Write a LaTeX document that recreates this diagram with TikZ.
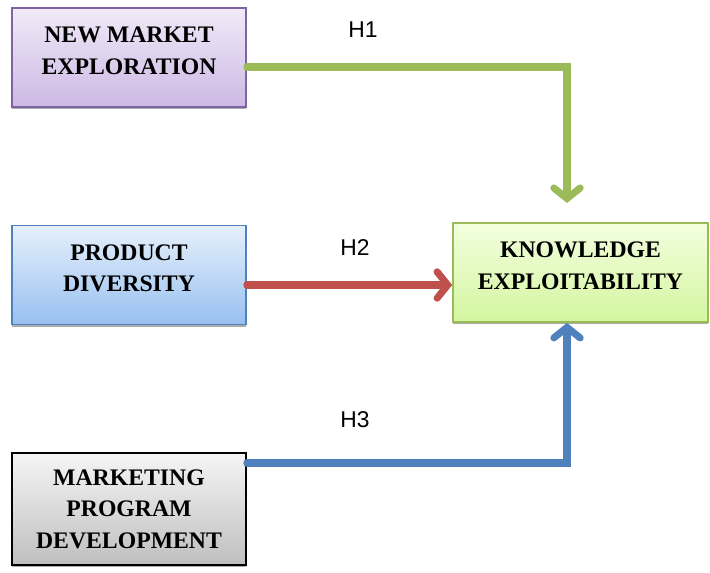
\documentclass[tikz,border=0pt]{standalone}
\usepackage{fontspec}
\setmainfont{Liberation Serif}
\newfontfamily\labelfont{Liberation Sans}
\usetikzlibrary{arrows.meta,shadows}

\definecolor{purpleedge}{HTML}{8064A2}
\definecolor{blueedge}{HTML}{4F81BD}
\definecolor{greenedge}{HTML}{9BBB59}
\definecolor{redline}{HTML}{C0504D}
\definecolor{purpletop}{HTML}{F1EAF8}
\definecolor{purplebot}{HTML}{CCB9E4}
\definecolor{bluetop}{HTML}{E6F0FC}
\definecolor{bluebot}{HTML}{98C0F0}
\definecolor{greentop}{HTML}{F2FFDE}
\definecolor{greenbot}{HTML}{D4F5A0}

\tikzset{
  factor/.style={draw, line width=1pt, minimum width=4.68cm, minimum height=1.98cm,
    align=center, font=\fontsize{13.5}{18}\selectfont\bfseries, text depth=8pt,
    drop shadow={shadow xshift=0pt, shadow yshift=-1.3pt, fill=black!55, opacity=.6}},
  hyp/.style={line width=4pt, line cap=round, line join=miter,
    -{Straight Barb[length=6pt, width=15pt, line cap=round]}},
  hlabel/.style={font=\labelfont\fontsize{13}{15}\selectfont}
}

\begin{document}
\begin{tikzpicture}[x=0.02cm,y=0.02cm]
\useasboundingbox (0,0) rectangle (710,572);

% the three factors and the outcome
\node[factor, draw=purpleedge, top color=purpletop, bottom color=purplebot]
  (newmkt) at (129,514.5) {NEW MARKET\\EXPLORATION};
\node[factor, draw=blueedge, top color=bluetop, bottom color=bluebot]
  (proddiv) at (129,297) {PRODUCT\\DIVERSITY};
\node[factor, draw=black, minimum height=2.24cm, text depth={}, top color=black!4, bottom color=black!25]
  (mktprog) at (129,63) {MARKETING\\PROGRAM\\DEVELOPMENT};
\node[factor, draw=greenedge, minimum width=5.1cm, top color=greentop, bottom color=greenbot]
  (knowexp) at (580.5,299.5) {KNOWLEDGE\\EXPLOITABILITY};

\coordinate (h1end) at (567,369);

% hypotheses
\draw[hyp, greenedge] ([yshift=-.19cm]newmkt.east) -| (h1end);
\draw[hyp, redline] ([yshift=-.2cm]proddiv.east) -- ([yshift=-.2cm]proddiv.east -| knowexp.west);
\draw[hyp, blueedge] ([yshift=.92cm]mktprog.east) -| ([xshift=-.27cm]knowexp.south);

\node[hlabel] (h1) at (363,542) {H1};
\node[hlabel] (h2) at (355,324) {H2};
\node[hlabel] (h3) at (355,152) {H3};
\end{tikzpicture}
\end{document}
